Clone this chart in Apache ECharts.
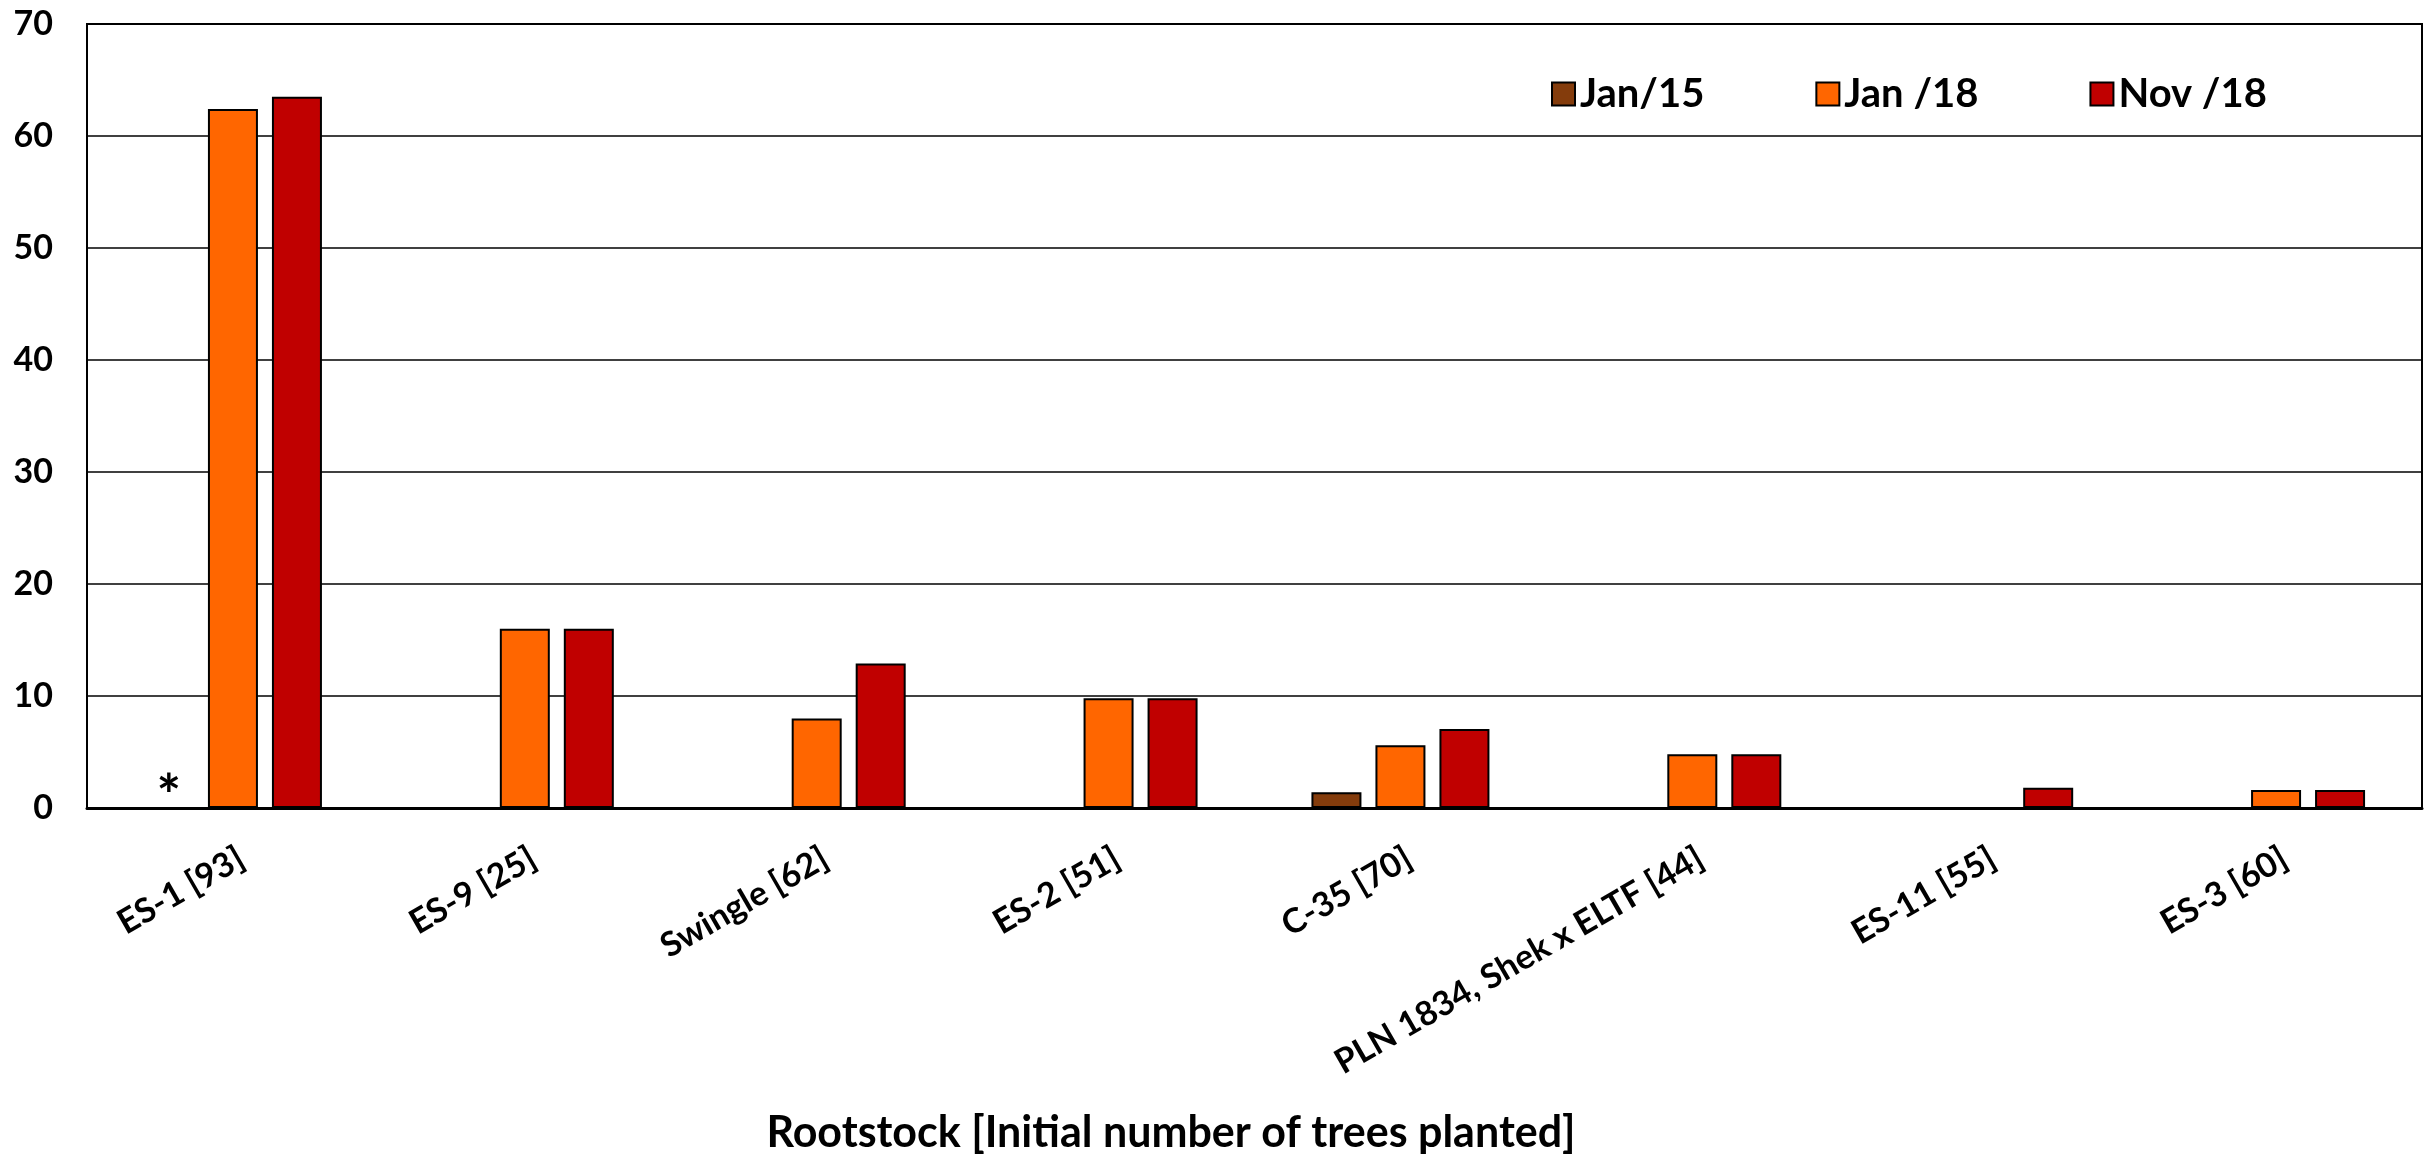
<!DOCTYPE html>
<html>
<head>
<meta charset="utf-8">
<script src="https://cdn.jsdelivr.net/npm/echarts@6/dist/echarts.min.js"></script>
<style>
html,body{margin:0;padding:0;background:#fff;}
#chart{width:2430px;height:1158px;}
</style>
</head>
<body>
<div id="chart"></div>
<script>
const categories = ['ES-1 [93]', 'ES-9 [25]', 'Swingle [62]', 'ES-2 [51]', 'C-35 [70]', 'PLN 1834, Shek x ELTF [44]', 'ES-11 [55]', 'ES-3 [60]'];
const seriesNames = ['Jan/15', 'Jan /18', 'Nov /18'];
const jan15 = [0, null, null, null, 1.4, null, null, null];
const jan18 = [62.4, 16, 8, 9.8, 5.6, 4.8, null, 1.6];
const nov18 = [63.5, 16, 12.9, 9.8, 7.05, 4.8, 1.8, 1.6];
const yTicks = [0, 10, 20, 30, 40, 50, 60, 70];
const axisTitle = 'Rootstock [Initial number of trees planted]';
const noteMark = '*';

const FONT = 'Lato';
const colors = ['#843C0C', '#FF6600', '#C00000'];

const jan15Data = jan15.map((v, i) => {
  if (i === 0) {
    return {
      value: v,
      itemStyle: { borderWidth: 0 },
      label: {
        show: true, position: 'top', formatter: noteMark, distance: -18,
        fontFamily: FONT, fontWeight: 'bold', fontSize: 58, color: '#000'
      }
    };
  }
  return v;
});

const chart = echarts.init(document.getElementById('chart'));
const barBase = {
  type: 'bar',
  barWidth: 50,
  barGap: '28%',
  emphasis: { disabled: true },
  animation: false
};
chart.setOption({
  animation: false,
  grid: {
    left: 87, right: 8, top: 24, bottom: 350,
    show: true, borderColor: '#000', borderWidth: 2, backgroundColor: 'transparent'
  },
  legend: {
    left: 1551, top: 74, padding: 0,
    itemWidth: 23, itemHeight: 23, itemGap: 111, itemTextGap: 11,
    icon: 'rect',
    textStyle: { fontFamily: FONT, fontWeight: 'bold', fontSize: 40, color: '#000' },
    data: seriesNames
  },
  xAxis: {
    type: 'category',
    data: categories,
    axisLine: { show: true, lineStyle: { color: '#000', width: 3 } },
    axisTick: { show: false },
    axisLabel: {
      interval: 0, rotate: 30, margin: 33, verticalAlign: 'top',
      fontFamily: FONT, fontWeight: 'bold', fontSize: 34, color: '#000'
    }
  },
  yAxis: {
    type: 'value',
    min: yTicks[0], max: yTicks[yTicks.length - 1], interval: 10,
    axisLine: { show: true, lineStyle: { color: '#000', width: 2 } },
    axisTick: { show: false },
    splitLine: { show: true, lineStyle: { color: '#000', width: 1.5 } },
    axisLabel: {
      margin: 34, fontFamily: FONT, fontWeight: 'bold', fontSize: 34, color: '#000'
    }
  },
  series: [
    Object.assign({}, barBase, { name: seriesNames[0], data: jan15Data, itemStyle: { color: colors[0], borderColor: '#000', borderWidth: 2 } }),
    Object.assign({}, barBase, { name: seriesNames[1], data: jan18, itemStyle: { color: colors[1], borderColor: '#000', borderWidth: 2 } }),
    Object.assign({}, barBase, { name: seriesNames[2], data: nov18, itemStyle: { color: colors[2], borderColor: '#000', borderWidth: 2 } })
  ],
  graphic: [{
    type: 'text',
    x: 1171, y: 1133,
    style: {
      text: axisTitle, textAlign: 'center', textVerticalAlign: 'middle',
      fontFamily: FONT, fontWeight: 'bold', fontSize: 43, fill: '#000'
    }
  }]
});
</script>
</body>
</html>
